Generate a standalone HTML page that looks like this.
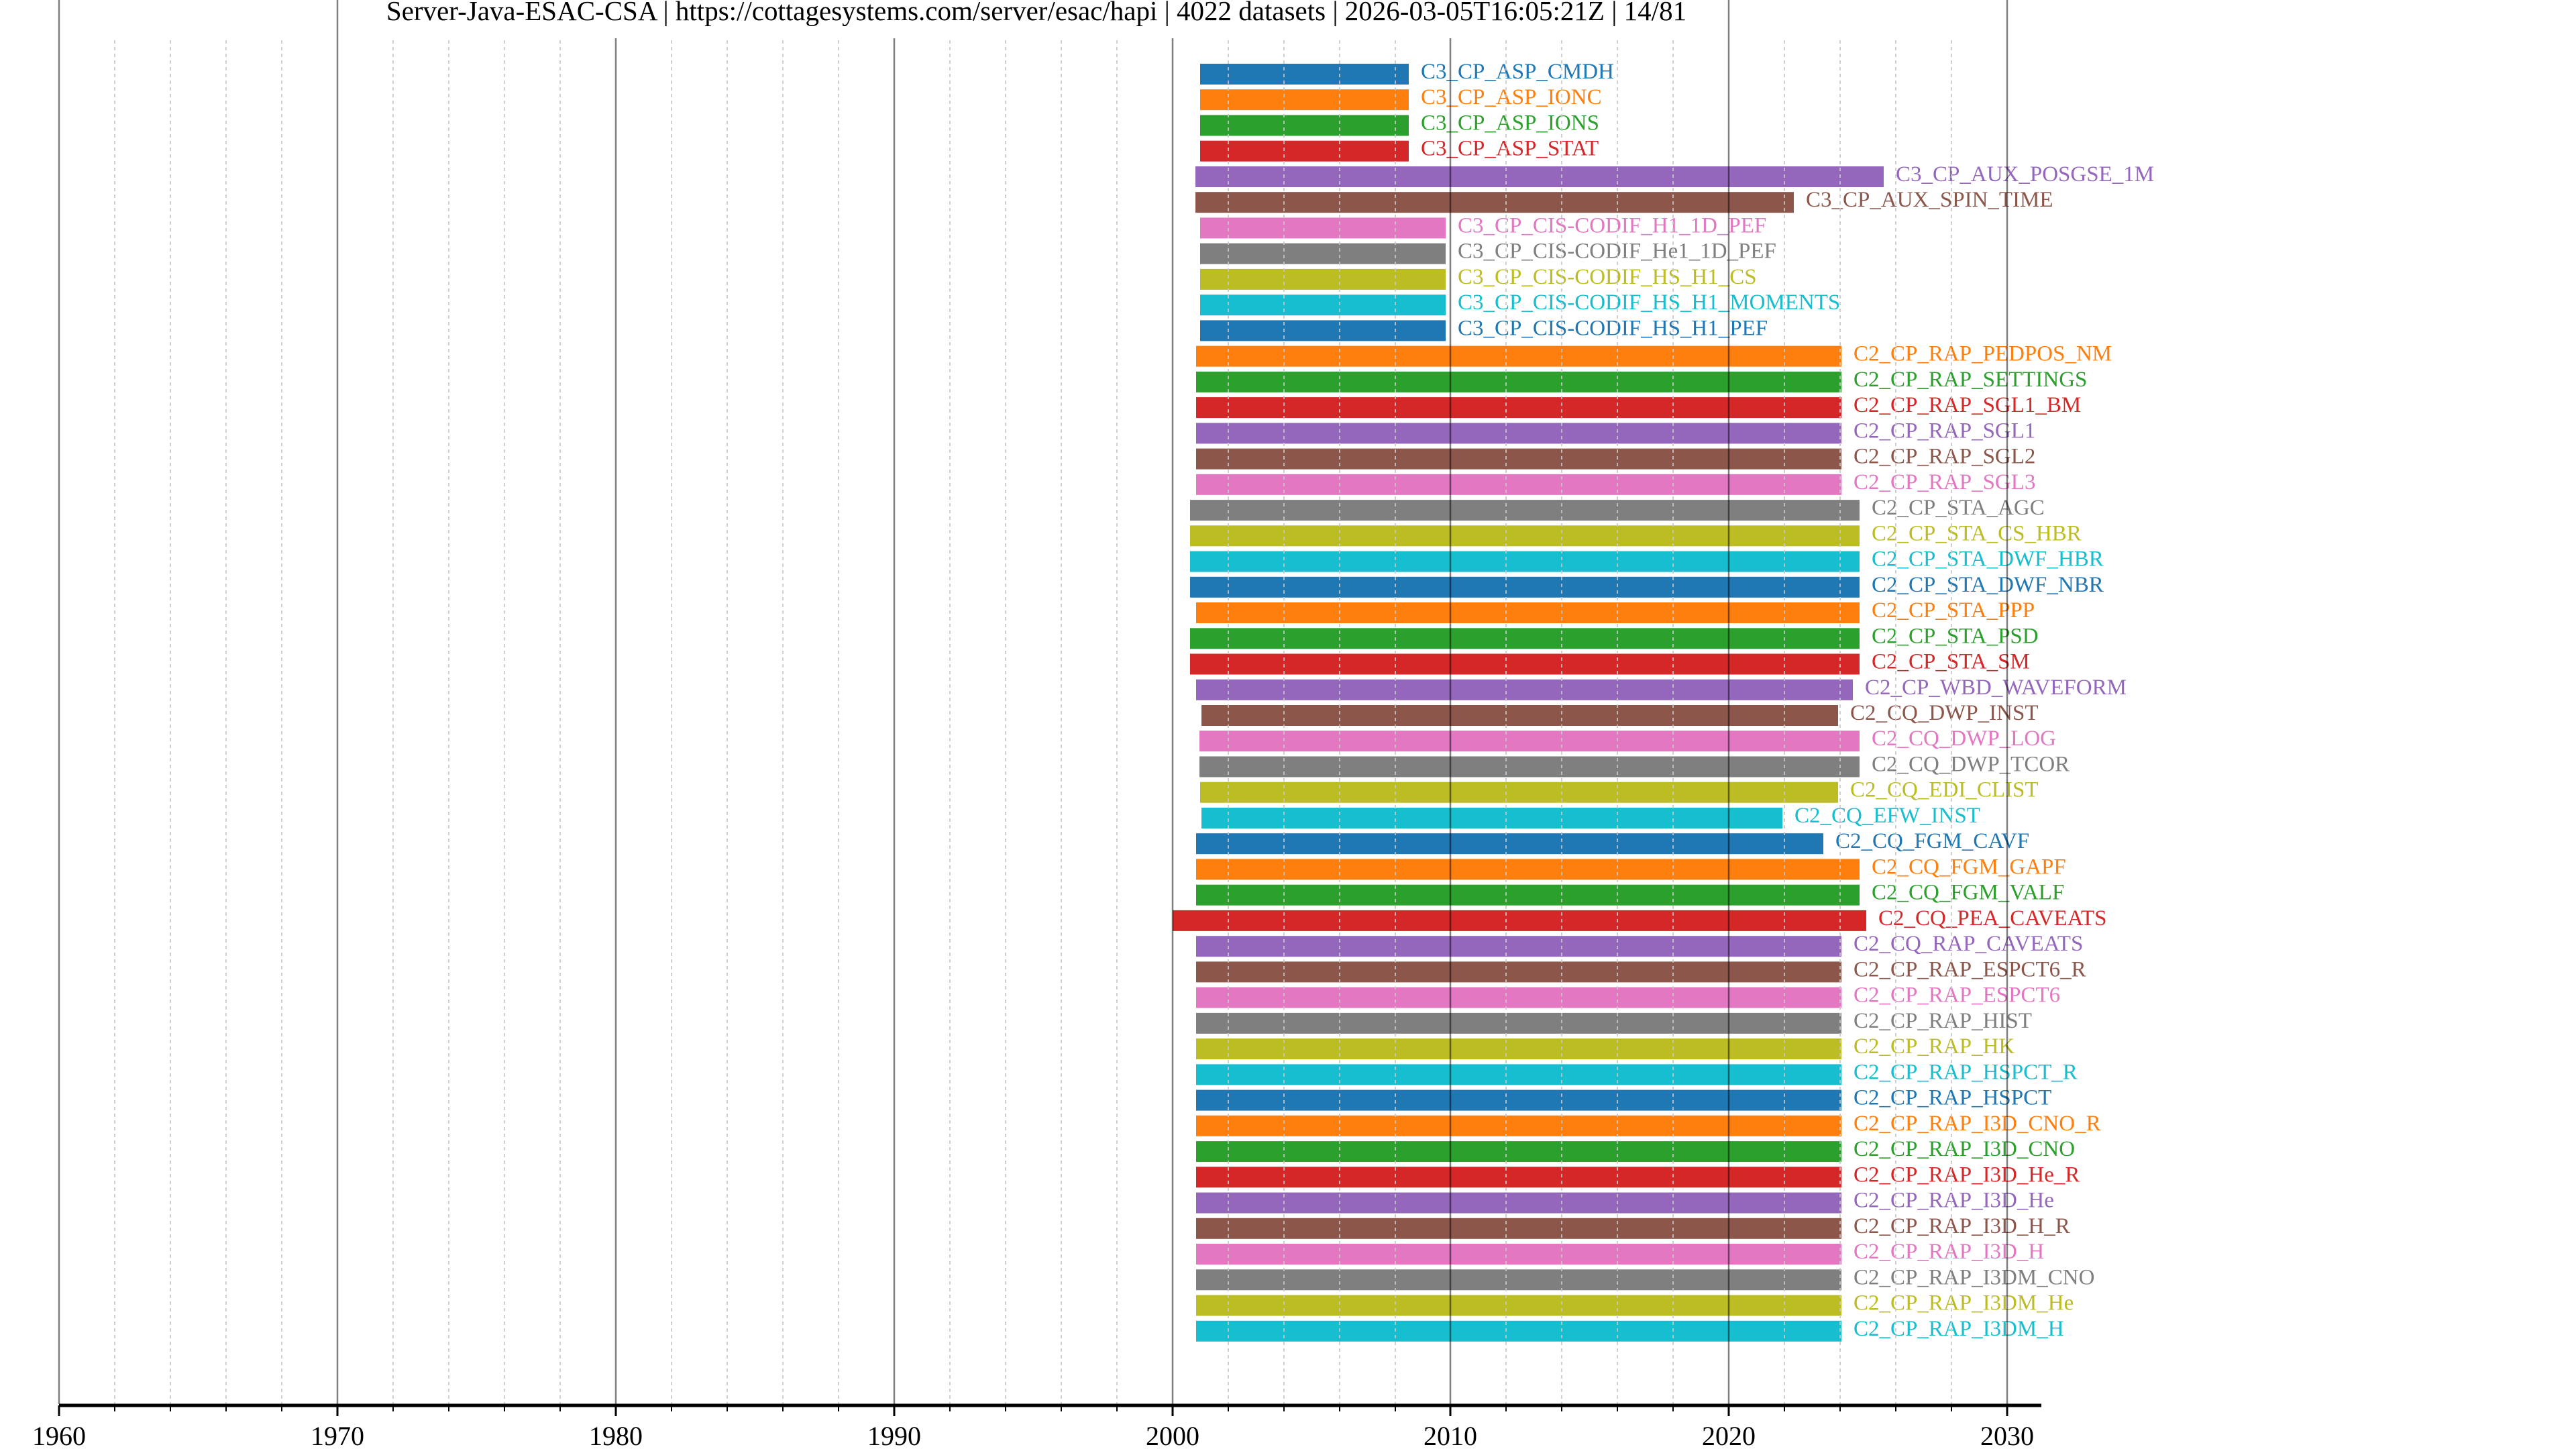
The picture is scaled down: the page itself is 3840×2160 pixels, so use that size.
<!DOCTYPE html>
<html><head><meta charset="utf-8"><style>
html,body{margin:0;padding:0;background:#fff;}
svg{display:block;font-family:"Liberation Serif",serif;}
</style></head><body>
<svg width="3840" height="2160" viewBox="0 0 3840 2160" xmlns="http://www.w3.org/2000/svg">
<rect width="3840" height="2160" fill="#fff"/>
<g font-size="33">
<g transform="translate(0,95)"><rect x="1789" y="0" width="311" height="31" fill="#1f77b4"/><text x="2118" y="22" fill="#1f77b4">C3_CP_ASP_CMDH</text></g>
<g transform="translate(0,133.2)"><rect x="1789" y="0" width="311" height="31" fill="#ff7f0e"/><text x="2118" y="22" fill="#ff7f0e">C3_CP_ASP_IONC</text></g>
<g transform="translate(0,171.5)"><rect x="1789" y="0" width="311" height="31" fill="#2ca02c"/><text x="2118" y="22" fill="#2ca02c">C3_CP_ASP_IONS</text></g>
<g transform="translate(0,209.7)"><rect x="1789" y="0" width="311" height="31" fill="#d62728"/><text x="2118" y="22" fill="#d62728">C3_CP_ASP_STAT</text></g>
<g transform="translate(0,248)"><rect x="1782" y="0" width="1026" height="31" fill="#9467bd"/><text x="2826" y="22" fill="#9467bd">C3_CP_AUX_POSGSE_1M</text></g>
<g transform="translate(0,286.2)"><rect x="1782" y="0" width="892" height="31" fill="#8c564b"/><text x="2692" y="22" fill="#8c564b">C3_CP_AUX_SPIN_TIME</text></g>
<g transform="translate(0,324.4)"><rect x="1789" y="0" width="366" height="31" fill="#e377c2"/><text x="2173" y="22" fill="#e377c2">C3_CP_CIS-CODIF_H1_1D_PEF</text></g>
<g transform="translate(0,362.7)"><rect x="1789" y="0" width="366" height="31" fill="#7f7f7f"/><text x="2173" y="22" fill="#7f7f7f">C3_CP_CIS-CODIF_He1_1D_PEF</text></g>
<g transform="translate(0,400.9)"><rect x="1789" y="0" width="366" height="31" fill="#bcbd22"/><text x="2173" y="22" fill="#bcbd22">C3_CP_CIS-CODIF_HS_H1_CS</text></g>
<g transform="translate(0,439.2)"><rect x="1789" y="0" width="366" height="31" fill="#17becf"/><text x="2173" y="22" fill="#17becf">C3_CP_CIS-CODIF_HS_H1_MOMENTS</text></g>
<g transform="translate(0,477.4)"><rect x="1789" y="0" width="366" height="31" fill="#1f77b4"/><text x="2173" y="22" fill="#1f77b4">C3_CP_CIS-CODIF_HS_H1_PEF</text></g>
<g transform="translate(0,515.6)"><rect x="1783" y="0" width="962" height="31" fill="#ff7f0e"/><text x="2763" y="22" fill="#ff7f0e">C2_CP_RAP_PEDPOS_NM</text></g>
<g transform="translate(0,553.9)"><rect x="1783" y="0" width="962" height="31" fill="#2ca02c"/><text x="2763" y="22" fill="#2ca02c">C2_CP_RAP_SETTINGS</text></g>
<g transform="translate(0,592.1)"><rect x="1783" y="0" width="962" height="31" fill="#d62728"/><text x="2763" y="22" fill="#d62728">C2_CP_RAP_SGL1_BM</text></g>
<g transform="translate(0,630.4)"><rect x="1783" y="0" width="962" height="31" fill="#9467bd"/><text x="2763" y="22" fill="#9467bd">C2_CP_RAP_SGL1</text></g>
<g transform="translate(0,668.6)"><rect x="1783" y="0" width="962" height="31" fill="#8c564b"/><text x="2763" y="22" fill="#8c564b">C2_CP_RAP_SGL2</text></g>
<g transform="translate(0,706.8)"><rect x="1783" y="0" width="962" height="31" fill="#e377c2"/><text x="2763" y="22" fill="#e377c2">C2_CP_RAP_SGL3</text></g>
<g transform="translate(0,745.1)"><rect x="1774" y="0" width="998" height="31" fill="#7f7f7f"/><text x="2790" y="22" fill="#7f7f7f">C2_CP_STA_AGC</text></g>
<g transform="translate(0,783.3)"><rect x="1774" y="0" width="998" height="31" fill="#bcbd22"/><text x="2790" y="22" fill="#bcbd22">C2_CP_STA_CS_HBR</text></g>
<g transform="translate(0,821.6)"><rect x="1774" y="0" width="998" height="31" fill="#17becf"/><text x="2790" y="22" fill="#17becf">C2_CP_STA_DWF_HBR</text></g>
<g transform="translate(0,859.8)"><rect x="1774" y="0" width="998" height="31" fill="#1f77b4"/><text x="2790" y="22" fill="#1f77b4">C2_CP_STA_DWF_NBR</text></g>
<g transform="translate(0,898)"><rect x="1783" y="0" width="989" height="31" fill="#ff7f0e"/><text x="2790" y="22" fill="#ff7f0e">C2_CP_STA_PPP</text></g>
<g transform="translate(0,936.3)"><rect x="1774" y="0" width="998" height="31" fill="#2ca02c"/><text x="2790" y="22" fill="#2ca02c">C2_CP_STA_PSD</text></g>
<g transform="translate(0,974.5)"><rect x="1774" y="0" width="998" height="31" fill="#d62728"/><text x="2790" y="22" fill="#d62728">C2_CP_STA_SM</text></g>
<g transform="translate(0,1012.8)"><rect x="1783" y="0" width="979" height="31" fill="#9467bd"/><text x="2780" y="22" fill="#9467bd">C2_CP_WBD_WAVEFORM</text></g>
<g transform="translate(0,1051)"><rect x="1791" y="0" width="949" height="31" fill="#8c564b"/><text x="2758" y="22" fill="#8c564b">C2_CQ_DWP_INST</text></g>
<g transform="translate(0,1089.2)"><rect x="1788" y="0" width="984" height="31" fill="#e377c2"/><text x="2790" y="22" fill="#e377c2">C2_CQ_DWP_LOG</text></g>
<g transform="translate(0,1127.5)"><rect x="1788" y="0" width="984" height="31" fill="#7f7f7f"/><text x="2790" y="22" fill="#7f7f7f">C2_CQ_DWP_TCOR</text></g>
<g transform="translate(0,1165.7)"><rect x="1789" y="0" width="951" height="31" fill="#bcbd22"/><text x="2758" y="22" fill="#bcbd22">C2_CQ_EDI_CLIST</text></g>
<g transform="translate(0,1204)"><rect x="1791" y="0" width="866" height="31" fill="#17becf"/><text x="2675" y="22" fill="#17becf">C2_CQ_EFW_INST</text></g>
<g transform="translate(0,1242.2)"><rect x="1783" y="0" width="935" height="31" fill="#1f77b4"/><text x="2736" y="22" fill="#1f77b4">C2_CQ_FGM_CAVF</text></g>
<g transform="translate(0,1280.4)"><rect x="1783" y="0" width="989" height="31" fill="#ff7f0e"/><text x="2790" y="22" fill="#ff7f0e">C2_CQ_FGM_GAPF</text></g>
<g transform="translate(0,1318.7)"><rect x="1783" y="0" width="989" height="31" fill="#2ca02c"/><text x="2790" y="22" fill="#2ca02c">C2_CQ_FGM_VALF</text></g>
<g transform="translate(0,1356.9)"><rect x="1748" y="0" width="1034" height="31" fill="#d62728"/><text x="2800" y="22" fill="#d62728">C2_CQ_PEA_CAVEATS</text></g>
<g transform="translate(0,1395.2)"><rect x="1783" y="0" width="962" height="31" fill="#9467bd"/><text x="2763" y="22" fill="#9467bd">C2_CQ_RAP_CAVEATS</text></g>
<g transform="translate(0,1433.4)"><rect x="1783" y="0" width="962" height="31" fill="#8c564b"/><text x="2763" y="22" fill="#8c564b">C2_CP_RAP_ESPCT6_R</text></g>
<g transform="translate(0,1471.6)"><rect x="1783" y="0" width="962" height="31" fill="#e377c2"/><text x="2763" y="22" fill="#e377c2">C2_CP_RAP_ESPCT6</text></g>
<g transform="translate(0,1509.9)"><rect x="1783" y="0" width="962" height="31" fill="#7f7f7f"/><text x="2763" y="22" fill="#7f7f7f">C2_CP_RAP_HIST</text></g>
<g transform="translate(0,1548.1)"><rect x="1783" y="0" width="962" height="31" fill="#bcbd22"/><text x="2763" y="22" fill="#bcbd22">C2_CP_RAP_HK</text></g>
<g transform="translate(0,1586.4)"><rect x="1783" y="0" width="962" height="31" fill="#17becf"/><text x="2763" y="22" fill="#17becf">C2_CP_RAP_HSPCT_R</text></g>
<g transform="translate(0,1624.6)"><rect x="1783" y="0" width="962" height="31" fill="#1f77b4"/><text x="2763" y="22" fill="#1f77b4">C2_CP_RAP_HSPCT</text></g>
<g transform="translate(0,1662.8)"><rect x="1783" y="0" width="962" height="31" fill="#ff7f0e"/><text x="2763" y="22" fill="#ff7f0e">C2_CP_RAP_I3D_CNO_R</text></g>
<g transform="translate(0,1701.1)"><rect x="1783" y="0" width="962" height="31" fill="#2ca02c"/><text x="2763" y="22" fill="#2ca02c">C2_CP_RAP_I3D_CNO</text></g>
<g transform="translate(0,1739.3)"><rect x="1783" y="0" width="962" height="31" fill="#d62728"/><text x="2763" y="22" fill="#d62728">C2_CP_RAP_I3D_He_R</text></g>
<g transform="translate(0,1777.6)"><rect x="1783" y="0" width="962" height="31" fill="#9467bd"/><text x="2763" y="22" fill="#9467bd">C2_CP_RAP_I3D_He</text></g>
<g transform="translate(0,1815.8)"><rect x="1783" y="0" width="962" height="31" fill="#8c564b"/><text x="2763" y="22" fill="#8c564b">C2_CP_RAP_I3D_H_R</text></g>
<g transform="translate(0,1854)"><rect x="1783" y="0" width="962" height="31" fill="#e377c2"/><text x="2763" y="22" fill="#e377c2">C2_CP_RAP_I3D_H</text></g>
<g transform="translate(0,1892.3)"><rect x="1783" y="0" width="962" height="31" fill="#7f7f7f"/><text x="2763" y="22" fill="#7f7f7f">C2_CP_RAP_I3DM_CNO</text></g>
<g transform="translate(0,1930.5)"><rect x="1783" y="0" width="962" height="31" fill="#bcbd22"/><text x="2763" y="22" fill="#bcbd22">C2_CP_RAP_I3DM_He</text></g>
<g transform="translate(0,1968.8)"><rect x="1783" y="0" width="962" height="31" fill="#17becf"/><text x="2763" y="22" fill="#17becf">C2_CP_RAP_I3DM_H</text></g>
</g>
<!-- minor grid -->
<g stroke="#c8c8c8" stroke-width="2" stroke-dasharray="5,5" opacity="0.85">
<path d="M171 60V2093M254 60V2093M337 60V2093M420 60V2093M586 60V2093M669 60V2093M752 60V2093M835 60V2093M1001 60V2093M1084 60V2093M1167 60V2093M1250 60V2093M1416 60V2093M1499 60V2093M1582 60V2093M1665 60V2093M1831 60V2093M1914 60V2093M1997 60V2093M2080 60V2093M2245 60V2093M2328 60V2093M2411 60V2093M2494 60V2093M2660 60V2093M2743 60V2093M2826 60V2093M2909 60V2093"/>
</g>
<!-- major grid -->
<g stroke="#000" stroke-opacity="0.5" stroke-width="2.5">
<path d="M88 0V2093M503 0V2093M918 0V2093M1333 0V2093M1748 0V2093M2162 0V2093M2577 0V2093M2992 0V2093"/>
</g>
<!-- title -->
<rect x="545" y="0" width="1980" height="57" fill="#fff"/>
<text x="1545" y="30" font-size="41" text-anchor="middle" fill="#000">Server-Java-ESAC-CSA | https://cottagesystems.com/server/esac/hapi | 4022 datasets | 2026-03-05T16:05:21Z | 14/81</text>
<!-- axis -->
<line x1="88" y1="2095" x2="3043" y2="2095" stroke="#000" stroke-width="5"/>
<g stroke="#000" stroke-width="3">
<path d="M88 2095V2111M503 2095V2111M918 2095V2111M1333 2095V2111M1748 2095V2111M2162 2095V2111M2577 2095V2111M2992 2095V2111"/>
</g>
<g stroke="#000" stroke-width="2">
<path d="M171 2095V2104M254 2095V2104M337 2095V2104M420 2095V2104M586 2095V2104M669 2095V2104M752 2095V2104M835 2095V2104M1001 2095V2104M1084 2095V2104M1167 2095V2104M1250 2095V2104M1416 2095V2104M1499 2095V2104M1582 2095V2104M1665 2095V2104M1831 2095V2104M1914 2095V2104M1997 2095V2104M2080 2095V2104M2245 2095V2104M2328 2095V2104M2411 2095V2104M2494 2095V2104M2660 2095V2104M2743 2095V2104M2826 2095V2104M2909 2095V2104"/>
</g>
<g font-size="40" text-anchor="middle" fill="#000">
<text x="88" y="2154">1960</text>
<text x="503" y="2154">1970</text>
<text x="918" y="2154">1980</text>
<text x="1333" y="2154">1990</text>
<text x="1748" y="2154">2000</text>
<text x="2162" y="2154">2010</text>
<text x="2577" y="2154">2020</text>
<text x="2992" y="2154">2030</text>
</g>
</svg>
</body></html>
